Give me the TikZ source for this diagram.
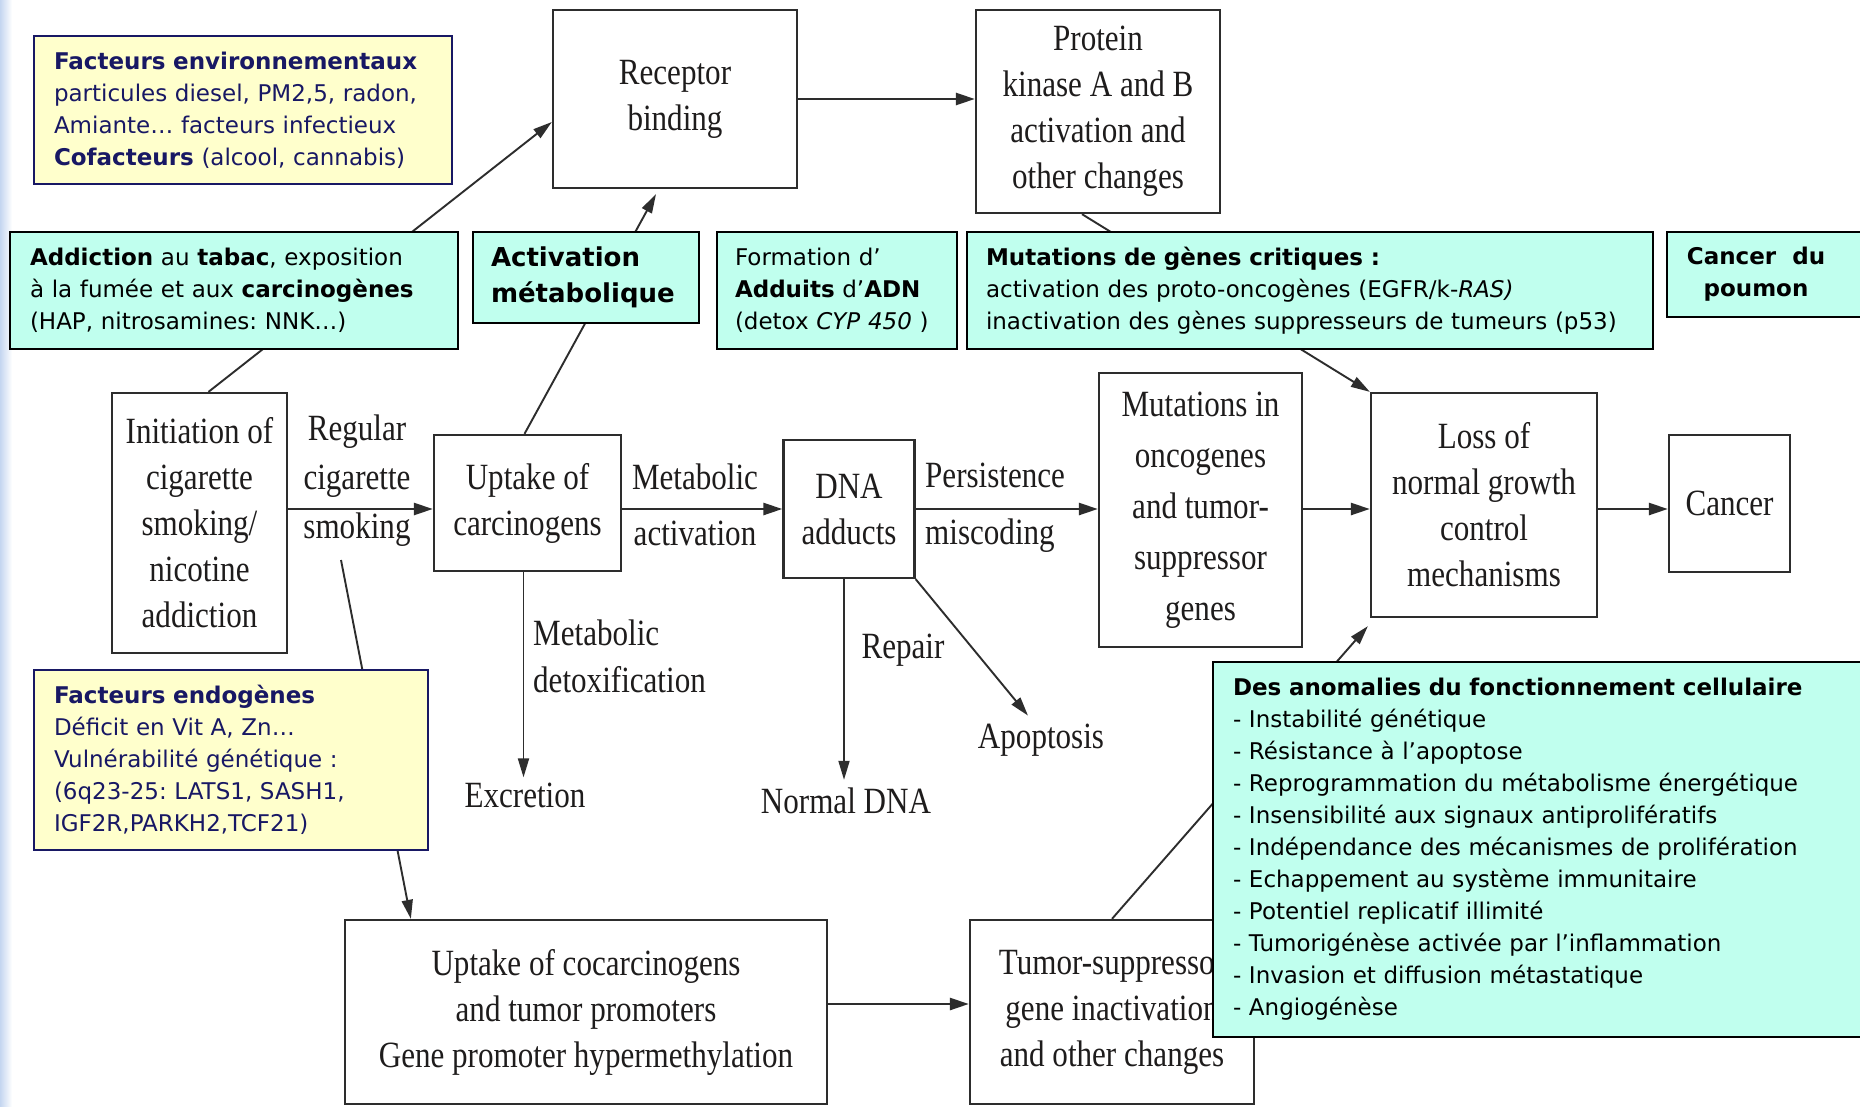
\documentclass[tikz,border=0pt]{standalone}
\usepackage{fontspec}
\setmainfont{Liberation Serif}
\newfontfamily\frs{DejaVu Sans}
\newfontfamily\dsf[FakeStretch=0.84]{Liberation Serif}
\usetikzlibrary{arrows.meta,calc}
\definecolor{yfill}{RGB}{255,255,204}
\definecolor{navy}{RGB}{24,24,100}
\definecolor{cfill}{RGB}{192,255,238}
\definecolor{dtext}{RGB}{30,28,28}
\definecolor{edge}{RGB}{45,45,45}
\definecolor{strip}{RGB}{196,214,240}
\frenchspacing
\begin{document}
\begin{tikzpicture}[x=1pt,y=-1pt,
  dbox/.style={draw=edge,line width=2.3pt,fill=white,text=dtext,align=center,inner sep=0pt,font=\dsf\fontsize{37}{46}\selectfont},
  lbl/.style={text=dtext,inner sep=0pt,font=\dsf\fontsize{37}{46}\selectfont},
  ybox/.style={draw=navy,line width=2pt,fill=yfill,text=navy,align=left,inner sep=0pt,font=\frs\frenchspacing\fontsize{23}{32}\selectfont},
  cbox/.style={draw=black,line width=2.6pt,fill=cfill,text=black,align=left,inner sep=0pt,font=\frs\frenchspacing\fontsize{23}{32}\selectfont},
  arr/.style={draw=edge,line width=2.6pt,-{Triangle[length=19pt,width=12pt]}},
  tarr/.style={draw=edge,line width=1.9pt,-{Triangle[length=19pt,width=11pt]}}
]
\useasboundingbox (0,0) rectangle (1860,1106);
\fill[white] (0,0) rectangle (1860,1106);
\shade[left color=strip,right color=white] (0,0) rectangle (12,1106);

% diagram boxes
\node[dbox,minimum width=244pt,minimum height=178pt] (rec) at (675,99) {Receptor\\binding};
\node[dbox,minimum width=244pt,minimum height=203pt] (prot) at (1098,111.5) {Protein\\kinase A and B\\activation and\\other changes};
\node[dbox,minimum width=175pt,minimum height=260pt] (init) at (199.5,523) {Initiation of\\cigarette\\smoking/\\nicotine\\addiction};
\node[dbox,minimum width=187pt,minimum height=136pt] (upt) at (527.5,503) {Uptake of\\carcinogens};
\node[dbox,minimum width=131pt,minimum height=138pt] (dna) at (849,509) {DNA\\adducts};
\node[dbox,minimum width=203pt,minimum height=274pt,font=\dsf\fontsize{37}{51}\selectfont] (mut) at (1200.5,510) {Mutations in\\oncogenes\\and tumor-\\suppressor\\genes};
\node[dbox,minimum width=226pt,minimum height=224pt] (loss) at (1484,505) {Loss of\\normal growth\\control\\mechanisms};
\node[dbox,minimum width=121pt,minimum height=137pt] (canc) at (1729.5,503.5) {Cancer};
\node[dbox,minimum width=482pt,minimum height=184pt] (cocarc) at (586,1012) {Uptake of cocarcinogens\\and tumor promoters\\Gene promoter hypermethylation};
\node[dbox,minimum width=284pt,minimum height=184pt] (tum) at (1112,1012) {Tumor-suppressor\\gene inactivation\\and other changes};

% labels
\node[lbl,align=center,font=\dsf\fontsize{37}{49}\selectfont] (reg) at (357,480.5) {Regular\\cigarette\\smoking};
\node[lbl,align=center,font=\dsf\fontsize{37}{56}\selectfont] (metab) at (695,504.5) {Metabolic\\activation};
\node[lbl,align=left,anchor=west,font=\dsf\fontsize{37}{57}\selectfont] (pers) at (925,508) {Persistence\\miscoding};
\node[lbl,align=left,anchor=west,font=\dsf\fontsize{37}{47}\selectfont] (detox) at (533,656) {Metabolic\\detoxification};
\node[lbl] (repair) at (903,650) {Repair};
\node[lbl] (apop) at (1041,740) {Apoptosis};
\node[lbl] (ndna) at (846,801) {Normal DNA};
\node[lbl] (excr) at (525,795) {Excretion};

\coordinate (row) at (0,509);
\coordinate (row2) at (0,1004);
\coordinate (regend) at (341,560);

% connectors
\draw[tarr] ([xshift=9pt]init.north) -- ([yshift=-23pt]rec.west);
\draw[tarr] ([xshift=-3pt]upt.north) -- ([shift={(-19pt,-5pt)}]rec.south);
\draw[arr] (rec.east) -- (rec.east -| prot.west);
\draw[tarr] ([xshift=-16pt]prot.south) -- (loss.north west);
\draw[arr] (init.east |- row) -- (upt.west |- row);
\draw[arr] (upt.east |- row) -- (dna.west |- row);
\draw[arr] (dna.east |- row) -- (mut.west |- row);
\draw[arr] (mut.east |- row) -- (loss.west |- row);
\draw[arr] (loss.east |- row) -- (canc.west |- row);
\draw[tarr] ([xshift=-4pt]upt.south) -- ([shift={(-4pt,5pt)}]upt.south |- excr.north);
\draw[tarr] ([xshift=-5pt]dna.south) -- ([shift={(-5pt,8pt)}]dna.south |- ndna.north);
\draw[tarr] (dna.south east) -- ([shift={(-13pt,8pt)}]apop.north);
\draw[tarr] (regend) -- ([xshift=67pt]cocarc.north west);
\draw[arr] (cocarc.east |- row2) -- (tum.west |- row2);
\draw[tarr] (tum.north) -- ([shift={(-2pt,-8pt)}]loss.south west);

% overlay boxes
\node[ybox,minimum width=418pt,minimum height=148pt,text width=378pt] (env) at (243,110)
  {\textbf{Facteurs environnementaux}\\particules diesel, PM2,5, radon,\\Amiante… facteurs infectieux\\\textbf{Cofacteurs} (alcool, cannabis)};
\node[cbox,minimum width=448pt,minimum height=117pt,text width=408pt] (addict) at (234,290.5)
  {\textbf{Addiction} au \textbf{tabac}, exposition\\à la fumée et aux \textbf{carcinogènes}\\(HAP, nitrosamines: NNK…)};
\node[cbox,minimum width=226pt,minimum height=91pt,text width=190pt,font=\frs\bfseries\fontsize{26}{36}\selectfont] (act) at (586,277.5)
  {Activation\\métabolique};
\node[cbox,minimum width=240pt,minimum height=117pt,text width=204pt] (form) at (837,290.5)
  {Formation d’\\\textbf{Adduits} d’\textbf{ADN}\\(detox \textit{CYP 450} )};
\node[cbox,minimum width=686pt,minimum height=117pt,text width=648pt] (mutb) at (1310,290.5)
  {\textbf{Mutations de gènes critiques :}\\activation des proto-oncogènes (EGFR/k-\textit{RAS)}\\inactivation des gènes suppresseurs de tumeurs (p53)};
\node[cbox,minimum width=199pt,minimum height=85pt] (cdpbox) at (1766.5,274.5) {};
\node[inner sep=0pt,align=center,font=\frs\bfseries\fontsize{23}{32}\selectfont] (cdp) at (1756,274.5) {Cancer\ \ du\\poumon};
\node[ybox,minimum width=394pt,minimum height=180pt,text width=354pt] (endo) at (231,760)
  {\textbf{Facteurs endogènes}\\Déficit en Vit A, Zn…\\Vulnérabilité génétique :\\(6q23-25: LATS1, SASH1,\\IGF2R,PARKH2,TCF21)};
\node[cbox,minimum width=653pt,minimum height=375pt,text width=613pt] (anom) at (1539.5,849.5)
  {\textbf{Des anomalies du fonctionnement cellulaire}\\
   - Instabilité génétique\\
   - Résistance à l’apoptose\\
   - Reprogrammation du métabolisme énergétique\\
   - Insensibilité aux signaux antiprolifératifs\\
   - Indépendance des mécanismes de prolifération\\
   - Echappement au système immunitaire\\
   - Potentiel replicatif illimité\\
   - Tumorigénèse activée par l’inflammation\\
   - Invasion et diffusion métastatique\\
   - Angiogénèse};
\end{tikzpicture}
\end{document}
